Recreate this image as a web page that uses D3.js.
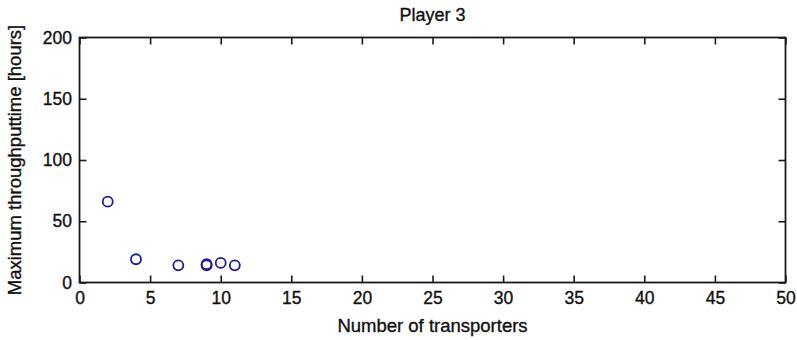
<!DOCTYPE html>
<html>
<head>
<meta charset="utf-8">
<script src="https://cdn.jsdelivr.net/npm/d3@7"></script>
<style>
  html, body { margin: 0; padding: 0; background: #fff; }
  svg { display: block; }
  text { font-family: "Liberation Sans", Arial, Helvetica, sans-serif; fill: #111; stroke: #111; stroke-width: 0.35px; }
</style>
</head>
<body>
<svg id="chart" width="797" height="340"></svg>
<script>
// Player 3: maximum throughput time against the number of transporters
const transporters = [2, 4, 7, 9, 9, 10, 11];
const throughputHours = [66, 19, 14, 14, 15, 16, 14];
const xTicks = [0, 5, 10, 15, 20, 25, 30, 35, 40, 45, 50];
const yTicks = [0, 50, 100, 150, 200];
const titleText = "Player 3";
const xLabelText = "Number of transporters";
const yLabelText = "Maximum throughputtime [hours]";

const svg = d3.select("#chart");
const plotLeft = 79.5, plotRight = 785.5, plotTop = 37.5, plotBottom = 282.5;
const tickLen = 7;

const x = d3.scaleLinear().domain([0, 50]).range([plotLeft, plotRight]);
const y = d3.scaleLinear().domain([0, 200]).range([plotBottom, plotTop]);

const axisStyle = g => {
  g.select(".domain").remove();
  g.selectAll(".tick line").attr("stroke", "#1a1a1a").attr("stroke-width", 1.6);
  g.selectAll(".tick text").attr("font-size", 17.5).attr("fill", "#111")
    .attr("font-family", '"Liberation Sans", Arial, sans-serif');
};

// bottom axis with inward ticks
svg.append("g").attr("transform", `translate(0,${plotBottom})`)
  .call(d3.axisBottom(x).tickValues(xTicks).tickSizeInner(-tickLen).tickSizeOuter(0).tickPadding(9.5))
  .call(axisStyle);
// top axis ticks only
svg.append("g").attr("transform", `translate(0,${plotTop})`)
  .call(d3.axisTop(x).tickValues(xTicks).tickSizeInner(-tickLen).tickSizeOuter(0).tickFormat(""))
  .call(axisStyle);
// left axis with inward ticks
svg.append("g").attr("transform", `translate(${plotLeft},0)`)
  .call(d3.axisLeft(y).tickValues(yTicks).tickSizeInner(-tickLen).tickSizeOuter(0).tickPadding(7.5))
  .call(axisStyle);
// right axis ticks only
svg.append("g").attr("transform", `translate(${plotRight},0)`)
  .call(d3.axisRight(y).tickValues(yTicks).tickSizeInner(-tickLen).tickSizeOuter(0).tickFormat(""))
  .call(axisStyle);

// frame
svg.append("rect")
  .attr("x", plotLeft).attr("y", plotTop)
  .attr("width", plotRight - plotLeft).attr("height", plotBottom - plotTop)
  .attr("fill", "none").attr("stroke", "#1a1a1a").attr("stroke-width", 1.8);

// markers
svg.append("g").selectAll("circle")
  .data(transporters.map((t, i) => ({ t, h: throughputHours[i] })))
  .join("circle")
  .attr("cx", d => x(d.t))
  .attr("cy", d => y(d.h))
  .attr("r", 5)
  .attr("fill", "none")
  .attr("stroke", "#1c1c94")
  .attr("stroke-width", 1.8);

// title and axis labels
svg.append("text").attr("x", (plotLeft + plotRight) / 2).attr("y", 20.5)
  .attr("text-anchor", "middle").attr("font-size", 18).text(titleText);
svg.append("text").attr("x", (plotLeft + plotRight) / 2).attr("y", 332)
  .attr("text-anchor", "middle").attr("font-size", 18.5).text(xLabelText);
svg.append("text").attr("transform", `translate(21,${(plotTop + plotBottom) / 2}) rotate(-90)`)
  .attr("text-anchor", "middle").attr("font-size", 18.5).text(yLabelText);
</script>
</body>
</html>
